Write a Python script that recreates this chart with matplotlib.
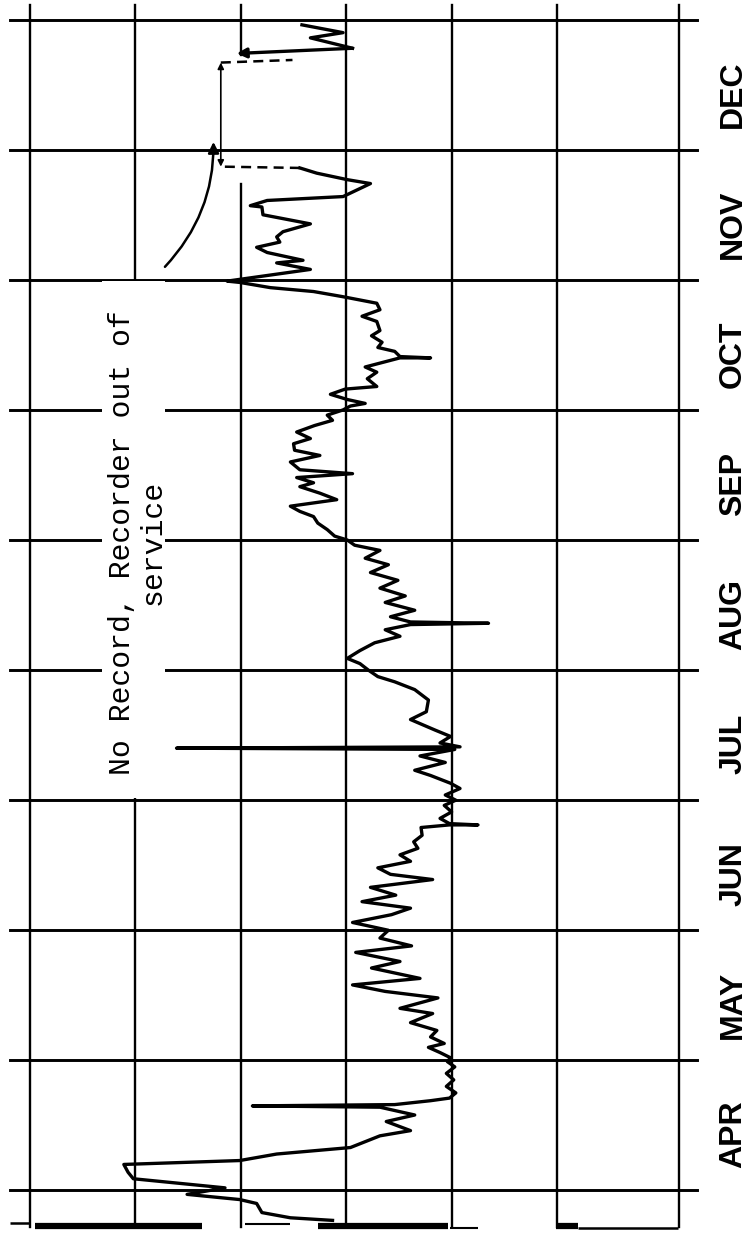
import matplotlib.pyplot as plt
from matplotlib.patches import Rectangle

# Recorder trace: time in months after 1 April, reading in chart divisions
trace_t = [-0.23, -0.21, -0.17, -0.10, -0.07, -0.03, 0.02, 0.09, 0.14, 0.20,
           0.23, 0.28, 0.33, 0.42, 0.46, 0.53, 0.58, 0.62, 0.64, 0.65,
           0.66, 0.69, 0.71, 0.75, 0.80, 0.85, 0.90, 0.95, 0.99, 1.02,
           1.06, 1.10, 1.13, 1.18, 1.23, 1.29, 1.36, 1.40, 1.48, 1.53,
           1.58, 1.63, 1.71, 1.76, 1.83, 1.88, 1.94, 2.00, 2.06, 2.12,
           2.17, 2.22, 2.27, 2.33, 2.39, 2.43, 2.48, 2.53, 2.58, 2.63,
           2.68, 2.73, 2.79, 2.81, 2.81, 2.82, 2.86, 2.91, 2.96, 3.00,
           3.04, 3.09, 3.13, 3.19, 3.23, 3.29, 3.34, 3.39, 3.40, 3.41,
           3.44, 3.49, 3.54, 3.62, 3.68, 3.77, 3.85, 3.91, 3.95, 4.00,
           4.05, 4.09, 4.15, 4.21, 4.26, 4.31, 4.35, 4.36, 4.37, 4.41,
           4.46, 4.52, 4.57, 4.63, 4.69, 4.75, 4.81, 4.86, 4.92, 4.96,
           5.00, 5.03, 5.08, 5.13, 5.18, 5.22, 5.26, 5.31, 5.36, 5.41,
           5.44, 5.48, 5.51, 5.54, 5.60, 5.65, 5.69, 5.74, 5.78, 5.83,
           5.88, 5.92, 5.96, 6.00, 6.03, 6.05, 6.08, 6.12, 6.16, 6.18,
           6.24, 6.29, 6.33, 6.36, 6.40, 6.40, 6.41, 6.45, 6.48, 6.52,
           6.57, 6.61, 6.68, 6.72, 6.77, 6.82, 6.87, 6.91, 6.94, 6.98,
           6.99, 7.08, 7.13, 7.15, 7.21, 7.25, 7.29, 7.33, 7.37, 7.43,
           7.50, 7.56, 7.57, 7.61, 7.64, 7.74, 7.77, 7.82, 7.86]
trace_v = [2.87, 2.47, 2.20, 2.15, 1.99, 1.49, 1.85, 0.98, 0.93, 0.89,
           1.99, 2.34, 3.04, 3.32, 3.61, 3.38, 3.65, 3.43, 3.32, 2.11,
           3.46, 3.80, 3.98, 4.04, 3.95, 4.02, 3.95, 4.03, 3.96, 3.99,
           3.89, 3.78, 3.93, 3.80, 3.86, 3.61, 3.82, 3.51, 3.87, 3.37,
           3.06, 3.70, 3.24, 3.51, 3.09, 3.62, 3.32, 3.40, 3.06, 3.43,
           3.61, 3.15, 3.47, 3.23, 3.82, 3.42, 3.30, 3.61, 3.51, 3.68,
           3.64, 3.72, 3.71, 3.98, 4.25, 3.98, 3.89, 4.00, 3.93, 4.04,
           3.94, 4.08, 3.99, 3.80, 3.65, 3.94, 3.70, 4.03, 1.39, 4.08,
           3.89, 3.99, 3.84, 3.61, 3.76, 3.78, 3.65, 3.46, 3.30, 3.21,
           3.13, 3.01, 3.13, 3.27, 3.51, 3.37, 3.61, 4.35, 3.61, 3.42,
           3.65, 3.37, 3.56, 3.32, 3.49, 3.23, 3.40, 3.18, 3.32, 3.08,
           3.01, 2.89, 2.82, 2.73, 2.69, 2.56, 2.47, 2.91, 2.75, 2.56,
           2.69, 2.53, 3.06, 2.56, 2.47, 2.75, 2.51, 2.50, 2.66, 2.53,
           2.70, 2.87, 2.82, 2.97, 3.04, 3.18, 3.01, 2.85, 2.99, 3.29,
           3.20, 3.29, 3.18, 3.32, 3.51, 3.80, 3.51, 3.46, 3.30, 3.34,
           3.24, 3.32, 3.29, 3.15, 3.32, 3.29, 2.97, 2.69, 2.28, 1.99,
           1.87, 2.66, 2.34, 2.59, 2.25, 2.15, 2.37, 2.34, 2.40, 2.66,
           2.21, 2.20, 2.09, 2.25, 2.97, 3.23, 3.01, 2.72, 2.56]

# Record after the recorder was put back in service
dec_t = [8.74, 8.78, 8.86, 8.90, 8.96]
dec_v = [1.96, 3.06, 2.66, 2.97, 2.58]

# Pieces of trace squeezed along the bottom edge: (start, end, time, width)
bottom_pieces = [(-0.19, 0.00, -0.25, 1.8), (0.05, 1.63, -0.27, 4.5),
                 (2.04, 2.47, -0.26, 1.5), (2.73, 3.97, -0.27, 4.5),
                 (3.98, 4.25, -0.29, 1.5), (4.99, 5.20, -0.27, 4.5),
                 (5.20, 6.15, -0.29, 1.8)]

months = ['APR', 'MAY', 'JUN', 'JUL', 'AUG', 'SEP', 'OCT', 'NOV', 'DEC']
grid_v = [0, 1, 2, 3, 4, 5]
border_v = 6.16

fig = plt.figure(figsize=(7.56, 12.33), dpi=100)
ax = fig.add_axes([0, 0, 1, 1])
ax.set_xlim(-0.285, 6.888)
ax.set_ylim(-0.327, 9.151)
ax.axis('off')

t_top, t_bot = 9.11, -0.28

# month boundaries
for k in range(len(months) + 1):
    ax.plot([-0.19, 6.33], [k, k], color='black', lw=2.1, zorder=1)

# value divisions; the one at 2 is broken where the record stops
for v in grid_v + [border_v]:
    if v == 2:
        ax.plot([v, v], [8.73, t_top], color='black', lw=1.7, zorder=1)
        ax.plot([v, v], [t_bot, 7.74], color='black', lw=1.7, zorder=1)
    else:
        ax.plot([v, v], [t_bot, t_top], color='black', lw=1.7, zorder=1)

# white patch behind the note
ax.add_patch(Rectangle((0.68, 3.017), 0.60, 3.973, facecolor='white',
                       edgecolor='none', zorder=2))
ax.text(1.02, 4.98, 'No Record, Recorder out of\nservice', rotation=90,
        ha='center', va='center', multialignment='center',
        family='Liberation Mono', fontsize=21.5, linespacing=1.13, zorder=3)

for k, name in enumerate(months):
    ax.text(6.67, k + 0.43, name, rotation=90, ha='center', va='center',
            family='Liberation Sans', fontweight='bold', fontsize=23)

ax.plot(trace_v, trace_t, color='black', lw=2.4, zorder=4,
        solid_joinstyle='round')
ax.plot(dec_v[1:], dec_t[1:], color='black', lw=2.4, zorder=4,
        solid_joinstyle='round')
ax.annotate('', xy=(dec_v[0], dec_t[0]), xytext=(dec_v[1], dec_t[1]),
            arrowprops=dict(arrowstyle='-|>', lw=2.4, color='black',
                            mutation_scale=14, shrinkA=0, shrinkB=0),
            zorder=4)

for v0, v1, t, w in bottom_pieces:
    ax.plot([v0, v1], [t, t], color='black', lw=w, solid_capstyle='butt',
            zorder=4)

# gap markers
ax.plot([trace_v[-1], 1.82], [trace_t[-1], 7.87], color='black', lw=1.8,
        ls=(0, (4, 2.5)), zorder=4)
ax.plot([1.81, 2.49], [8.67, 8.69], color='black', lw=1.8,
        ls=(0, (4, 2.5)), zorder=4)
ax.annotate('', xy=(1.81, 8.67), xytext=(1.81, 7.87),
            arrowprops=dict(arrowstyle='<|-|>', lw=1.2, color='black',
                            mutation_scale=9, shrinkA=0, shrinkB=0),
            zorder=4)
ax.annotate('', xy=(1.74, 8.06), xytext=(1.28, 7.10),
            arrowprops=dict(arrowstyle='-|>', lw=1.8, color='black',
                            connectionstyle='arc3,rad=0.2',
                            mutation_scale=16, shrinkA=0, shrinkB=0),
            zorder=4)

fig.savefig('out.png', dpi=100)
